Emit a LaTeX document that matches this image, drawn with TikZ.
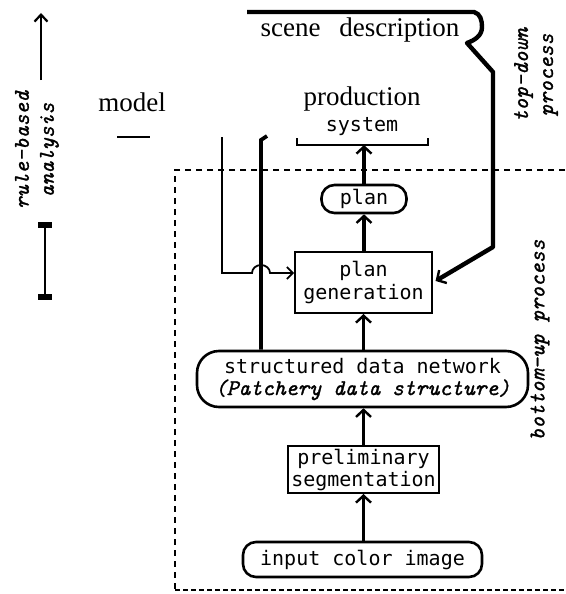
\documentclass[tikz,border=0pt]{standalone}
\usepackage{fontspec}
\setmainfont{Liberation Serif}
\newfontfamily\boxfont{DejaVu Sans Mono}
\newfontfamily\itfont{lmmono10-italic}[Extension=.otf, FakeBold=1.2]
\usetikzlibrary{arrows.meta,calc}
\tikzset{
  serif/.style={font=\fontsize{27}{28}\selectfont, inner sep=0pt},
  boxtxt/.style={font=\boxfont\fontsize{20}{22}\selectfont, align=center, inner sep=0pt},
  rbox/.style={boxtxt, draw, line width=2.6pt, rounded corners=13pt},
  sbox/.style={boxtxt, draw, line width=2pt},
  itlabel/.style={font=\itfont\fontsize{22.5}{25}\selectfont, align=center, rotate=90, inner sep=0pt},
  flow/.style={line width=3.5pt, -{Straight Barb[length=7pt,width=15pt,line width=2.4pt]}},
  thick line/.style={line width=3.8pt},
  thin line/.style={line width=1.8pt},
  bound/.style={line width=1.6pt, dash pattern=on 6pt off 5pt},
}
\begin{document}
\begin{tikzpicture}[x=1pt,y=-1pt]
\useasboundingbox (0,0) rectangle (565,594);

% dashed boundary
\draw[bound] (565,170) -- (175,170) -- (175,590);
\draw[line width=2.2pt, dash pattern=on 5pt off 3pt] (175,590) -- (565,590);

% texts
\node[serif] (sd) at (360,30) {scene\hspace{19pt}description};
\node[serif] (model) at (132,102) {model};
\node[serif] (prod) at (362,99) {production};
\node[boxtxt] (sys) at (362,127) {system};

% nodes
\node[rbox, minimum width=85pt, minimum height=28pt] (plan) at (364,199) {plan};
\node[sbox, minimum width=137pt, minimum height=61pt, font=\boxfont\fontsize{20}{23.5}\selectfont] (pg) at (363.5,282.5) {plan\\generation};
\node[rbox, minimum width=331pt, minimum height=56pt, rounded corners=22pt] (sdn) at (362.5,379)
  {structured data network\\{\itfont\fontsize{22.5}{22}\selectfont (Patchery data structure)}};
\node[sbox, minimum width=151pt, minimum height=47pt] (pre) at (363.5,469.5) {preliminary\\segmentation};
\node[rbox, minimum width=239pt, minimum height=35pt] (inp) at (362.5,559.5) {input color image};

% production system bracket
\coordinate (br) at (363,145);
\draw[thin line] (297,138) -- (297,145) -- (428,145) -- (428,138);

% flow arrows
\draw[flow] (inp.north -| pre.south) -- (pre.south);
\draw[flow] (pre.north) -- (pre.north |- sdn.south);
\draw[flow] (sdn.north -| pre.north) -- (pre.north |- pg.south);
\draw[flow] (pg.north -| plan.south) -- (plan.south);
\draw[flow] (plan.north) -- (plan.north |- br);

% scene description path
\coordinate (sdL) at (247,12);
\draw[line width=4.4pt, line join=round, -{Straight Barb[length=7pt,width=15pt,line width=2.4pt]}, shorten >=3pt]
  (sdL) -- (474,12) to[out=-15,in=90] (482,27) to[out=-90,in=20] (467,43) -- (493,72) -- (493,247) -- (pg.east);

% model lines
\draw[line width=1.5pt] (117,137) -- (150,137);
\coordinate (tk) at (261,140);
\draw[thick line] (267,136) -- (tk) -- (tk |- sdn.north);
\coordinate (mt) at (222,137);
\coordinate (hop) at (252,273);
\draw[thin line, -{Straight Barb[length=6pt,width=12pt,line width=1.6pt]}]
  (mt) |- (hop) arc[start angle=180, end angle=0, x radius=9pt, y radius=8pt] -- (pg.west |- hop);

% left: rule-based analysis
\coordinate (ra1) at (41,80);
\coordinate (ra2) at (41,13);
\draw[line width=2.8pt, -{Straight Barb[length=7pt,width=13pt,line width=2.2pt]}] (ra1) -- (ra2);
\node[itlabel] (rba) at (37,150) {rule-based\\analysis};
\coordinate (ib1) at (45,225);
\coordinate (ib2) at (45,297);
\draw[line width=2pt] (ib1) -- (ib2);
\fill ($(ib1)+(-7,-3)$) rectangle ($(ib1)+(7,3)$);
\fill ($(ib2)+(-7,-3)$) rectangle ($(ib2)+(7,3)$);

% right labels
\node[itlabel] (td) at (536,75) {top-down\\process};
\node[itlabel] (bu) at (540,340) {bottom-up process};
\end{tikzpicture}
\end{document}
